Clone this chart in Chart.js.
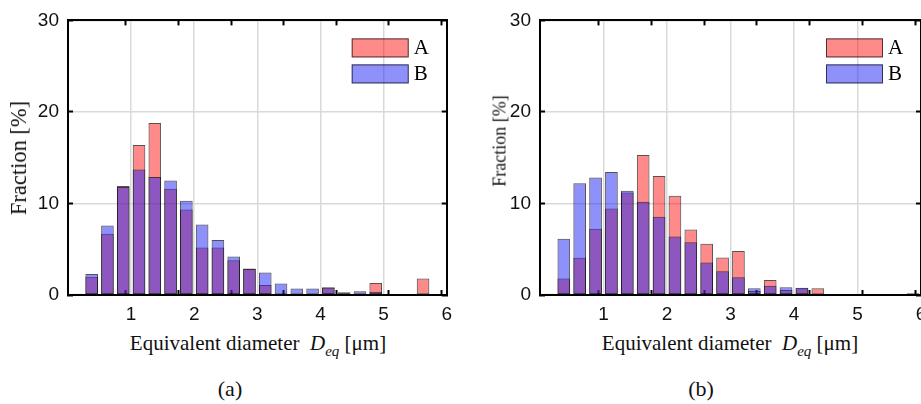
<!DOCTYPE html>
<html>
<head>
<meta charset="utf-8">
<script src="https://cdn.jsdelivr.net/npm/chart.js@4/dist/chart.umd.min.js"></script>
<style>
  html, body { margin: 0; padding: 0; background: #fff; }
  #page { position: relative; width: 921px; height: 404px; overflow: hidden; }
  canvas { position: absolute; top: 0; }
  .ytitle, .xtitle, .cap { position: absolute; font-family: "Liberation Serif", serif; white-space: nowrap; color: #111; }
  .ytitle { transform: translate(-50%, -50%) rotate(-90deg); }
  .xtitle { font-size: 21px; line-height: 21px; transform: translateX(-50%); }
  .xtitle sub { font-size: 15px; font-style: italic; vertical-align: -6px; line-height: 0; }
  .cap { font-size: 22px; line-height: 22px; transform: translateX(-50%); }
</style>
</head>
<body>
<div id="page">
  <canvas id="chartA" width="460" height="330" style="left:0"></canvas>
  <canvas id="chartB" width="480" height="330" style="left:460px"></canvas>

  <div class="ytitle" style="left:19px; top:158px; font-size:22.5px;">Fraction [%]</div>
  <div class="ytitle" style="left:500px; top:141px; font-size:18px;">Fraction [%]</div>

  <div class="xtitle" style="left:258px; top:333px;">Equivalent diameter&nbsp;&nbsp;<i>D</i><sub>eq</sub> [μm]</div>
  <div class="xtitle" style="left:730px; top:333px;">Equivalent diameter&nbsp;&nbsp;<i>D</i><sub>eq</sub> [μm]</div>

  <div class="cap" style="left:230px; top:378px;">(a)</div>
  <div class="cap" style="left:701px; top:378px;">(b)</div>
</div>

<script>
// bin centres of the 0.25 µm histogram bins
const binCenters = [0.125, 0.375, 0.625, 0.875, 1.125, 1.375, 1.625, 1.875,
                    2.125, 2.375, 2.625, 2.875, 3.125, 3.375, 3.625, 3.875,
                    4.125, 4.375, 4.625, 4.875, 5.125, 5.375, 5.625, 5.875];

const xTicks = [1, 2, 3, 4, 5, 6];
const yTicks = [0, 10, 20, 30];

// panel (a)
const aA = [0.15, 2.0, 6.7, 11.9, 16.4, 18.8, 11.6, 9.35, 5.2, 5.2, 3.8, 2.9,
            1.1, 0, 0, 0, 0.85, 0, 0.1, 1.3, 0, 0, 1.8, 0];
const aB = [0, 2.3, 7.6, 11.8, 13.7, 12.9, 12.5, 10.3, 7.7, 6.0, 4.2, 2.85,
            2.45, 1.27, 0.7, 0.7, 0.8, 0.3, 0.4, 0.35, 0, 0, 0, 0];

// panel (b)
const bA = [0.15, 1.8, 4.07, 7.25, 9.45, 11.2, 15.3, 13.0, 10.85, 7.15, 5.6, 4.1,
            4.8, 0.45, 1.65, 0.55, 0.75, 0.75, 0, 0, 0, 0, 0, 0];
const bB = [0, 6.15, 12.2, 12.85, 13.45, 11.4, 10.2, 8.55, 6.4, 5.75, 3.55, 2.6,
            1.95, 0.75, 1.0, 0.85, 0.78, 0.1, 0, 0.1, 0, 0, 0, 0.2];

const RED = "rgba(255, 0, 0, 0.46)";
const BLUE = "rgba(30, 35, 245, 0.5)";
const EDGE = "rgba(10, 10, 10, 0.7)";

Chart.defaults.font.family = "'Liberation Sans', Arial, sans-serif";
Chart.defaults.font.size = 19;
Chart.defaults.color = "#111";

// legend patches in the top right corner of the axes
const boxLegend = {
  id: "boxLegend",
  afterDatasetsDraw(chart) {
    const { ctx, chartArea: a } = chart;
    ctx.save();
    chart.data.datasets.forEach((ds, i) => {
      const lx = a.right - 95, ly = a.top + 18 + i * 26;
      ctx.fillStyle = ds.backgroundColor;
      ctx.fillRect(lx, ly, 57, 19);
      ctx.strokeStyle = ds.borderColor;
      ctx.lineWidth = 1;
      ctx.strokeRect(lx + 0.5, ly + 0.5, 56, 18);
      ctx.fillStyle = "#000";
      ctx.font = '21px "Liberation Serif"';
      ctx.textBaseline = "middle";
      ctx.fillText(ds.label, lx + 62, ly + 10);
    });
    ctx.restore();
  }
};

// zero-size axes that only draw the black box edge and the inward tick marks
function boxAxis(axis, position, min, max, ticks) {
  const horizontal = axis === "x";
  return {
    type: "linear", axis, position, min, max,
    weight: 0, z: 1,
    afterBuildTicks: s => { s.ticks = ticks.map(v => ({ value: v })); },
    afterFit: s => { if (horizontal) s.height = 0; else s.width = 0; },
    ticks: { display: false },
    grid: { drawOnChartArea: false, drawTicks: true, tickLength: -5, tickColor: "#000", tickWidth: 2 },
    border: { display: true, color: "#000", width: 2 }
  };
}

function makeChart(id, seriesA, seriesB, yWidth, padRight) {
  const pts = arr => binCenters.map((c, i) => ({ x: c, y: arr[i] }));
  return new Chart(document.getElementById(id), {
    type: "bar",
    data: {
      datasets: [
        { label: "A", data: pts(seriesA), backgroundColor: RED, borderColor: EDGE, borderWidth: 1, borderSkipped: false, order: 2 },
        { label: "B", data: pts(seriesB), backgroundColor: BLUE, borderColor: EDGE, borderWidth: 1, borderSkipped: false, order: 1 }
      ]
    },
    options: {
      responsive: false,
      animation: false,
      layout: { padding: { top: 20, right: padRight, left: 0, bottom: 0 } },
      datasets: { bar: { grouped: false, categoryPercentage: 1, barPercentage: 0.8 } },
      plugins: { legend: { display: false }, tooltip: { enabled: false } },
      scales: {
        x: {
          type: "linear",
          min: 0, max: 6,
          offset: false,
          weight: 1,
          afterBuildTicks: s => { s.ticks = xTicks.map(v => ({ value: v })); },
          afterFit: s => { s.height = 35; },
          ticks: { padding: 8, maxRotation: 0 },
          grid: { offset: false, color: "#d9d9d9", lineWidth: 1.5, drawTicks: false },
          border: { display: false }
        },
        y: {
          min: 0, max: 30,
          weight: 1,
          afterBuildTicks: s => { s.ticks = yTicks.map(v => ({ value: v })); },
          afterFit: s => { s.width = yWidth; },
          ticks: { padding: 9 },
          grid: { color: "#d9d9d9", lineWidth: 1.5, drawTicks: false },
          border: { display: false }
        },
        xBot: boxAxis("x", "bottom", 0, 6, xTicks),
        xTop: boxAxis("x", "top", 0, 6, xTicks),
        yLeft: boxAxis("y", "left", 0, 30, yTicks),
        yRight: boxAxis("y", "right", 0, 30, yTicks)
      }
    },
    plugins: [boxLegend]
  });
}

makeChart("chartA", aA, aB, 68, 12);
makeChart("chartB", bA, bB, 80, 19);
</script>
</body>
</html>
